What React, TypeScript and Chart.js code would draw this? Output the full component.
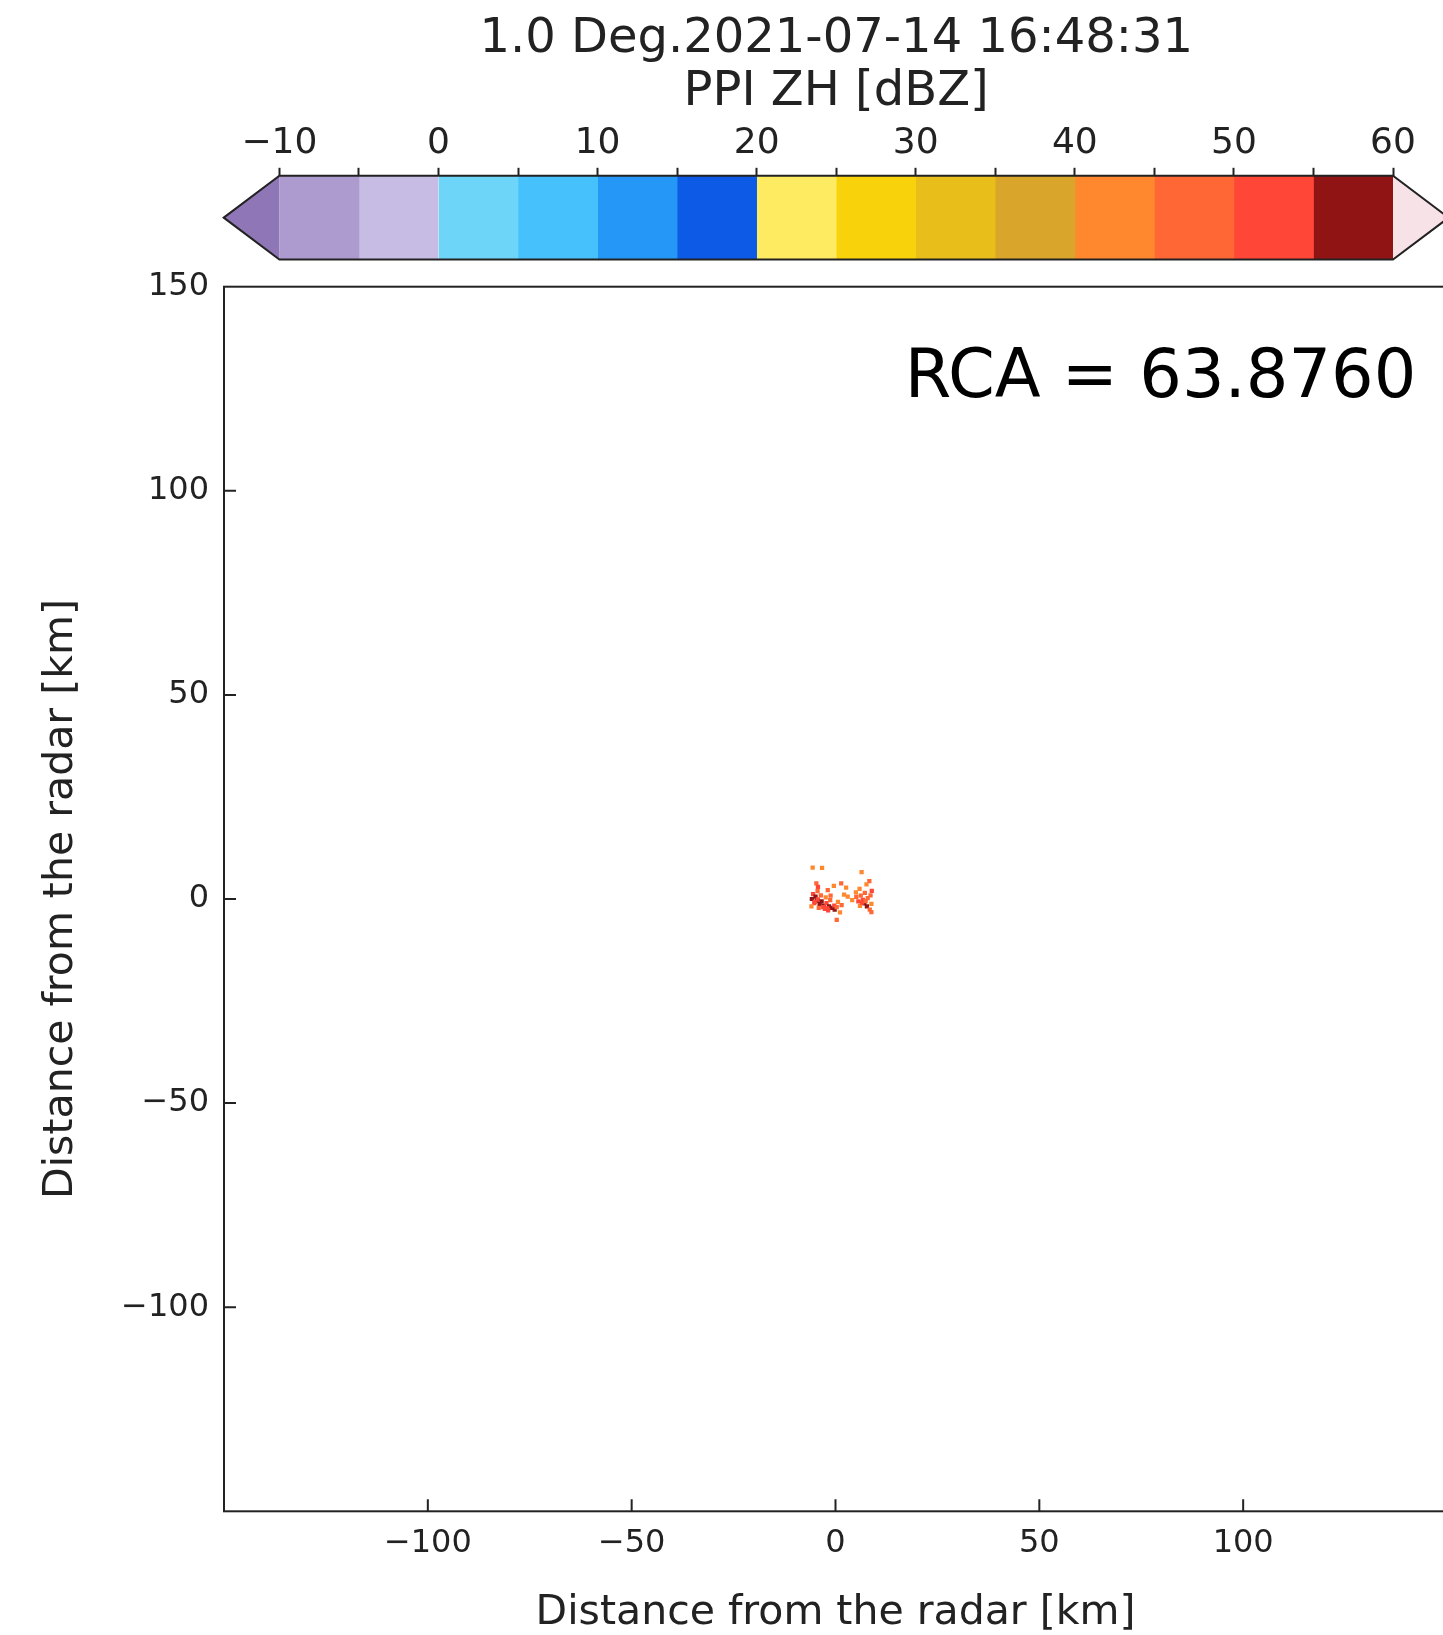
import React, { useEffect, useRef } from 'react';
import { Chart, registerables } from 'chart.js';

Chart.register(...registerables);

// ---------- text ----------
const TITLE_LINES = ['1.0 Deg.2021-07-14 16:48:31', 'PPI ZH [dBZ]'];
const X_TITLE = 'Distance from the radar [km]';
const Y_TITLE = 'Distance from the radar [km]';
const RCA_LABEL = 'RCA = 63.8760';

// ---------- colour bar ----------
const CB_BOUNDS = [-10, -5, 0, 5, 10, 15, 20, 25, 30, 35, 40, 45, 50, 55, 60];
const CB_COLORS = [
  '#ad9bcf', '#c7bde4', '#6dd5f7', '#47c1fc', '#2598f7', '#0c5ae6', '#ffeb62',
  '#f8d20a', '#e7be1a', '#d9a52a', '#ff882f', '#ff6735', '#ff4637', '#901414',
];
const CB_UNDER = '#8f76b6';
const CB_OVER = '#f7e3e7';
const CB_EXTEND_FRAC = 0.05;

// ---------- axes ----------
const AXIS_MIN = -150;
const AXIS_MAX = 150;
const AXIS_STEP = 50;

// ---------- radar echoes (km east, km north, dBZ) ----------
const X_KM = [
  -5.6, -3.3, 6.4, 8.3, 7.6, -4.7, -4.3, -1.9, 1.4, 2.6, -0.4, 5.9, 8.9, 7.2,
  -5.5, -4.9, -5.8, -4.6, -5.2, -3.9, -4.3, -3.4, -2.9, -2.2, -1.6, -0.9, -0.3, -2.6,
  -1.8, -0.2, 0.3, -3.6, -2.4, -1.2, -5.9, -4.1, 0.6, 1.5,
  3.0, 2.1, 4.1, 0.3, 1.1,
  5.1, 5.6, 6.2, 6.7, 7.1, 7.7, 8.4, 8.8, 6.0, 7.9, 8.6, 5.0, 8.8,
  -5.1, -3.0, -2.0, -4.4, -1.3, 6.5, 7.4,
];
const Y_KM = [
  7.7, 7.6, 6.6, 4.4, 3.6, 3.8, 3.0, 2.2, 3.8, 2.8, 3.2, 2.5, 2.0, 1.5,
  1.2, 0.6, 0.0, -0.4, -1.0, -1.2, -0.1, -0.6, -1.6, -1.0, -1.8, -2.2, -1.6, -2.4,
  -2.8, -2.6, -2.0, 0.9, 0.4, 0.8, -1.8, -2.2, -0.7, -1.5,
  0.6, 1.1, -0.3, -5.1, -3.3,
  0.5, -0.6, 0.8, -0.2, -1.1, -1.8, -2.6, -1.2, -1.7, 0.2, 0.9, 1.6, -3.2,
  -0.7, -2.0, -2.3, 1.9, -0.3, -0.9, -0.5,
];
const ZH_DBZ = [
  42, 44, 41, 46, 43, 48, 51, 47, 45, 42, 41, 44, 50, 48,
  52, 57, 55, 58, 52, 56, 53, 58, 57, 53, 56, 58, 52, 54,
  51, 56, 47, 46, 44, 49, 43, 45, 43, 46,
  44, 40, 42, 46, 41,
  46, 50, 48, 53, 57, 55, 47, 44, 43, 49, 45, 42, 48,
  54, 52, 53, 47, 45, 51, 46,
];

const FONT = '"DejaVu Sans", "Noto Sans", sans-serif';
const INK = '#222222';

function colorFor(v: number): string {
  if (v < CB_BOUNDS[0]) return CB_UNDER;
  for (let i = 0; i < CB_COLORS.length; i++) {
    if (v < CB_BOUNDS[i + 1]) return CB_COLORS[i];
  }
  return CB_OVER;
}

function fmt(v: number): string {
  return v < 0 ? '\u2212' + Math.abs(v) : String(v);
}

export default function App() {
  const cbRef = useRef<HTMLCanvasElement>(null);
  const mainRef = useRef<HTMLCanvasElement>(null);

  useEffect(() => {
    document.body.style.margin = '0';
    Chart.defaults.font.family = FONT;

    const cbDecor = {
      id: 'cbDecor',
      afterDatasetsDraw(chart: any) {
        const { ctx, chartArea: a, scales } = chart;
        const x = scales.x;
        const lo = CB_BOUNDS[0];
        const hi = CB_BOUNDS[CB_BOUNDS.length - 1];
        const ext = (hi - lo) * CB_EXTEND_FRAC;
        const l = x.getPixelForValue(lo);
        const r = x.getPixelForValue(hi);
        const tl = x.getPixelForValue(lo - ext);
        const tr = x.getPixelForValue(hi + ext);
        const mid = (a.top + a.bottom) / 2;
        ctx.save();
        ctx.fillStyle = CB_UNDER;
        ctx.beginPath();
        ctx.moveTo(l, a.top);
        ctx.lineTo(tl, mid);
        ctx.lineTo(l, a.bottom);
        ctx.closePath();
        ctx.fill();
        ctx.fillStyle = CB_OVER;
        ctx.beginPath();
        ctx.moveTo(r, a.top);
        ctx.lineTo(tr, mid);
        ctx.lineTo(r, a.bottom);
        ctx.closePath();
        ctx.fill();
        ctx.strokeStyle = INK;
        ctx.lineWidth = 2;
        ctx.lineJoin = 'miter';
        ctx.beginPath();
        ctx.moveTo(tl, mid);
        ctx.lineTo(l, a.top);
        ctx.lineTo(r, a.top);
        ctx.lineTo(tr, mid);
        ctx.lineTo(r, a.bottom);
        ctx.lineTo(l, a.bottom);
        ctx.closePath();
        ctx.stroke();
        ctx.restore();
      },
    };

    const cbChart = new Chart(cbRef.current as HTMLCanvasElement, {
      type: 'bar',
      data: {
        labels: ['ZH'],
        datasets: CB_COLORS.map((c, i) => ({
          data: [[CB_BOUNDS[i], CB_BOUNDS[i + 1]]],
          backgroundColor: c,
          borderWidth: 0,
          barPercentage: 1,
          categoryPercentage: 1,
          grouped: false,
        })) as any,
      },
      plugins: [cbDecor],
      options: {
        indexAxis: 'y',
        animation: false,
        responsive: false,
        devicePixelRatio: 1,
        layout: { padding: { left: 279.4, right: 1460 - 1393, top: 0, bottom: 270 - 259.5 } },
        plugins: {
          legend: { display: false },
          tooltip: { enabled: false },
          title: {
            display: true,
            fullSize: false,
            text: TITLE_LINES,
            color: INK,
            font: { size: 48, family: FONT, weight: 'normal', lineHeight: 1.1 },
            padding: { top: 13, bottom: 0 },
          },
        },
        scales: {
          y: { type: 'category', display: false, offset: true },
          x: {
            type: 'linear',
            position: 'top',
            min: CB_BOUNDS[0],
            max: CB_BOUNDS[CB_BOUNDS.length - 1],
            border: { display: false },
            grid: {
              display: true,
              drawOnChartArea: false,
              drawTicks: true,
              tickLength: 8,
              tickWidth: 2,
              tickColor: INK,
            },
            ticks: {
              stepSize: 5,
              autoSkip: false,
              maxRotation: 0,
              padding: 3,
              color: INK,
              font: { size: 36, family: FONT },
              callback: (v: any) => (Number(v) % 10 === 0 ? fmt(Number(v)) : ''),
            },
          },
        },
      } as any,
    });

    const frame = {
      id: 'frame',
      afterDatasetsDraw(chart: any) {
        const { ctx, chartArea: a, scales } = chart;
        const x = scales.x;
        const y = scales.y;
        ctx.save();
        ctx.strokeStyle = INK;
        ctx.lineWidth = 2;
        ctx.strokeRect(a.left, a.top, a.right - a.left, a.bottom - a.top);
        ctx.beginPath();
        x.ticks.forEach((t: any) => {
          if (t.value > AXIS_MIN && t.value < AXIS_MAX) {
            const px = x.getPixelForValue(t.value);
            ctx.moveTo(px, a.bottom);
            ctx.lineTo(px, a.bottom - 12);
          }
        });
        y.ticks.forEach((t: any) => {
          if (t.value > AXIS_MIN && t.value < AXIS_MAX) {
            const py = y.getPixelForValue(t.value);
            ctx.moveTo(a.left, py);
            ctx.lineTo(a.left + 12, py);
          }
        });
        ctx.stroke();
        ctx.fillStyle = '#000000';
        ctx.font = `67px ${FONT}`;
        ctx.textAlign = 'left';
        ctx.textBaseline = 'alphabetic';
        ctx.fillText(RCA_LABEL, a.left + 0.5566 * (a.right - a.left), a.bottom - 0.91 * (a.bottom - a.top));
        ctx.restore();
      },
    };

    const mainChart = new Chart(mainRef.current as HTMLCanvasElement, {
      type: 'scatter',
      data: {
        datasets: [
          {
            data: X_KM.map((xv, i) => ({ x: xv, y: Y_KM[i] })),
            pointStyle: 'rect',
            pointRadius: 3,
            pointHoverRadius: 3,
            backgroundColor: ZH_DBZ.map(colorFor),
            borderWidth: 0,
          },
        ],
      },
      plugins: [frame],
      options: {
        animation: false,
        responsive: false,
        devicePixelRatio: 1,
        layout: { padding: { left: 0, right: 1460 - 1449.5, top: 286.7, bottom: 0 } },
        plugins: { legend: { display: false }, tooltip: { enabled: false } },
        scales: {
          x: {
            type: 'linear',
            min: AXIS_MIN,
            max: AXIS_MAX,
            border: { display: false },
            grid: { display: false, drawTicks: false },
            ticks: {
              stepSize: AXIS_STEP,
              autoSkip: false,
              maxRotation: 0,
              padding: 13,
              color: INK,
              font: { size: 32, family: FONT },
              callback: (v: any) => (Math.abs(Number(v)) >= AXIS_MAX ? '' : fmt(Number(v))),
            },
            title: {
              display: true,
              text: X_TITLE,
              color: INK,
              font: { size: 41, family: FONT, lineHeight: 1.0 },
              padding: { top: 0, bottom: 1.5 },
            },
            afterFit: (s: any) => {
              s.height = 1635 - 1511.3;
            },
          },
          y: {
            type: 'linear',
            min: AXIS_MIN,
            max: AXIS_MAX,
            border: { display: false },
            grid: { display: false, drawTicks: false },
            ticks: {
              stepSize: AXIS_STEP,
              autoSkip: false,
              padding: 15,
              color: INK,
              font: { size: 32, family: FONT },
              callback: (v: any) => (Number(v) <= AXIS_MIN ? '' : fmt(Number(v))),
            },
            title: {
              display: true,
              text: Y_TITLE,
              color: INK,
              font: { size: 41, family: FONT },
              padding: { top: 36.5, bottom: 0 },
            },
            afterFit: (s: any) => {
              s.width = 224;
            },
          },
        },
      } as any,
    });

    return () => {
      cbChart.destroy();
      mainChart.destroy();
    };
  }, []);

  return (
    <div style={{ position: 'relative', width: 1443, height: 1635, overflow: 'hidden', background: '#ffffff' }}>
      <canvas ref={mainRef} width={1460} height={1635} style={{ position: 'absolute', left: 0, top: 0 }} />
      <canvas ref={cbRef} width={1460} height={270} style={{ position: 'absolute', left: 0, top: 0 }} />
    </div>
  );
}
